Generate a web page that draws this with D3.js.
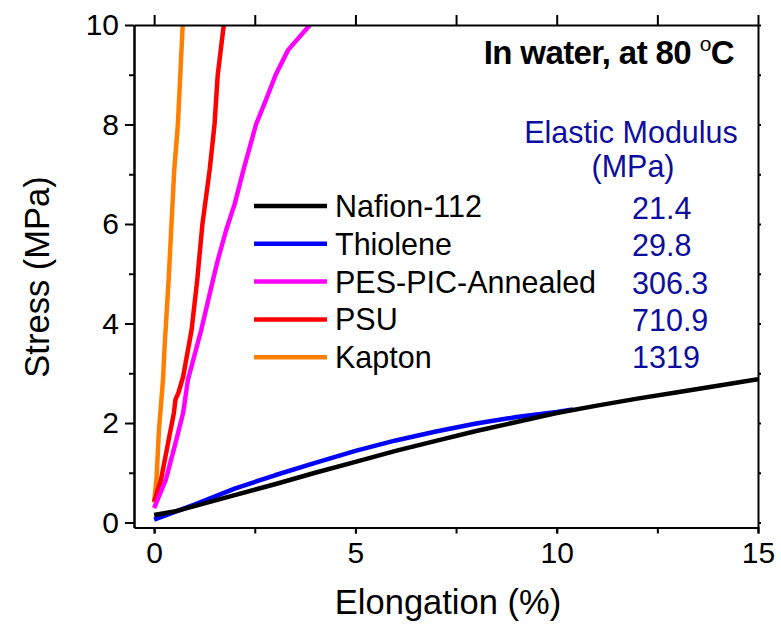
<!DOCTYPE html>
<html>
<head>
<meta charset="utf-8">
<script src="https://cdn.jsdelivr.net/npm/d3@7"></script>
<style>
body { margin: 0; background: #fff; }
text { font-family: "Liberation Sans", Arial, sans-serif; }
</style>
</head>
<body>
<script>
/*
Stress-strain curves in water at 80 C
*/
var width = 781,
    height = 630;

// data: [elongation %, stress MPa]
var nafion = [[0,0.15],[0.5,0.22],[1,0.33],[2,0.55],[3,0.77],[4,1.0],[5,1.22],[6,1.44],[7,1.64],
    [8,1.84],[9,2.02],[10,2.2],[11,2.35],[12,2.49],[13,2.62],[14,2.75],[15,2.88]];
var thiolene = [[0,0.06],[1,0.36],[2,0.68],[3,0.95],[4,1.2],[5,1.44],[6,1.65],[7,1.83],[8,1.99],
    [9,2.12],[10,2.22],[10.4,2.27]];
var pesPic = [[0,0.29],[0.29,0.86],[0.51,1.53],[0.72,2.2],[0.84,2.87],[1.17,3.87],[1.46,4.87],
    [1.58,5.27],[1.79,5.88],[2.0,6.4],[2.22,7.09],[2.53,8],[2.78,8.5],[3.02,9],[3.33,9.5],[3.87,10]];
var psu = [[0,0.42],[0.17,0.86],[0.33,1.53],[0.49,2.2],[0.53,2.47],[0.6,2.6],[0.72,2.93],[0.93,3.87],
    [1.07,4.87],[1.2,6.0],[1.38,7.09],[1.5,8],[1.58,9],[1.73,10]];
var kapton = [[0,0.4],[0.06,0.9],[0.12,1.86],[0.16,2.26],[0.22,2.86],[0.26,3.54],[0.36,4.87],
    [0.5,7.09],[0.59,8],[0.71,10]];

var seriesNames = ["Nafion-112", "Thiolene", "PES-PIC-Annealed", "PSU", "Kapton"];
var moduli = ["21.4", "29.8", "306.3", "710.9", "1319"];
var xTicks = [0, 5, 10, 15];
var yTicks = [0, 2, 4, 6, 8, 10];

var seriesData = [nafion, thiolene, pesPic, psu, kapton];
var colors = ["#000000", "#0000ff", "#ff00ff", "#ff0000", "#ff8000"];

var svg = d3.select("body").append("svg")
    .attr("width", width)
    .attr("height", height)
    .style("display", "block");

var x = d3.scaleLinear().domain([-0.5, 15]).range([134, 758]);
var y = d3.scaleLinear().domain([-0.1, 10]).range([527.5, 25]);

var line = d3.line()
    .x(function(d) { return x(d[0]); })
    .y(function(d) { return y(d[1]); });

// curves first, frame drawn on top
svg.append("defs").append("clipPath").attr("id", "clip")
  .append("rect")
    .attr("x", x(-0.5)).attr("y", y(10))
    .attr("width", x(15) - x(-0.5)).attr("height", y(-0.1) - y(10));

svg.append("g")
    .attr("clip-path", "url(#clip)")
  .selectAll("path")
    .data(seriesData.slice().reverse())
    .enter().append("path")
    .attr("fill", "none")
    .attr("stroke", function(d, i) { return colors[colors.length - 1 - i]; })
    .attr("stroke-width", 4.5)
    .attr("stroke-linejoin", "round")
    .attr("d", line);

// axes
function styleAxis(g) {
  g.select(".domain").attr("stroke", "#000").attr("stroke-width", 2);
  g.selectAll(".tick line").attr("stroke", "#000").attr("stroke-width", 2);
  g.selectAll(".tick text")
    .attr("fill", "#000")
    .style("font-size", "30px")
    .style("font-family", "'Liberation Sans', Arial, sans-serif");
}

var minorX = d3.range(0, 15.01, 2.5);

svg.append("g")
    .attr("transform", "translate(0," + y(-0.1) + ")")
    .call(d3.axisBottom(x).tickValues(minorX).tickFormat("").tickSize(6).tickSizeOuter(0))
    .call(styleAxis);

svg.append("g")
    .attr("transform", "translate(0," + y(-0.1) + ")")
    .call(d3.axisBottom(x).tickValues(xTicks).tickSize(6).tickPadding(8).tickSizeOuter(0))
    .call(styleAxis)
    .call(function(g) { g.select(".domain").remove(); });

svg.append("g")
    .attr("transform", "translate(0," + y(10) + ")")
    .call(d3.axisTop(x).tickValues(minorX).tickFormat("").tickSize(10).tickSizeOuter(0))
    .call(styleAxis);

svg.append("g")
    .attr("transform", "translate(" + x(-0.5) + ",0)")
    .call(d3.axisLeft(y).tickValues(d3.range(1, 10, 2)).tickFormat("").tickSize(5).tickSizeOuter(0))
    .call(styleAxis);

svg.append("g")
    .attr("transform", "translate(" + x(-0.5) + ",0)")
    .call(d3.axisLeft(y).tickValues(yTicks).tickSize(9).tickPadding(6).tickSizeOuter(0))
    .call(styleAxis);

svg.append("g")
    .attr("transform", "translate(" + x(15) + ",0)")
    .call(d3.axisRight(y).tickValues(d3.range(0, 10.01, 1)).tickFormat("").tickSize(3).tickSizeOuter(0))
    .call(styleAxis);

// axis titles
svg.append("text")
    .attr("x", 448)
    .attr("y", 614)
    .attr("text-anchor", "middle")
    .style("font-size", "34.5px")
    .text("Elongation (%)");

svg.append("text")
    .attr("transform", "translate(49,277) rotate(-90)")
    .attr("text-anchor", "middle")
    .style("font-size", "34.5px")
    .text("Stress (MPa)");

// condition label
var title = svg.append("text")
    .attr("x", 734)
    .attr("y", 64)
    .attr("text-anchor", "end")
    .style("font-size", "33px")
    .style("font-weight", "bold")
    .style("letter-spacing", "-0.6px");
title.append("tspan").text("In water, at 80 ");
title.append("tspan").attr("dy", -13).style("font-size", "21px").style("font-weight", "normal").text("o");
title.append("tspan").attr("dy", 13).text("C");

// legend
var legend = svg.append("g")
  .selectAll("g")
    .data(seriesNames)
    .enter().append("g")
    .attr("transform", function(d, i) { return "translate(0," + (217 + i * 37.8) + ")"; });

legend.append("line")
    .attr("x1", 254).attr("x2", 327)
    .attr("y1", -11).attr("y2", -11)
    .attr("stroke", function(d, i) { return colors[i]; })
    .attr("stroke-width", 4.5);

legend.append("text")
    .attr("x", 335)
    .style("font-size", "30.5px")
    .text(function(d) { return d; });

// modulus column
var blue = "#0d0da0";
svg.append("text")
    .attr("x", 631).attr("y", 143)
    .attr("text-anchor", "middle")
    .attr("fill", blue)
    .style("font-size", "30.5px")
    .text("Elastic Modulus");

svg.append("text")
    .attr("x", 633).attr("y", 177)
    .attr("text-anchor", "middle")
    .attr("fill", blue)
    .style("font-size", "30.5px")
    .text("(MPa)");

svg.append("g")
  .selectAll("text")
    .data(moduli)
    .enter().append("text")
    .attr("x", 632)
    .attr("y", function(d, i) { return 219 + i * 37.3; })
    .attr("fill", blue)
    .style("font-size", "30.5px")
    .text(function(d) { return d; });
</script>
</body>
</html>
